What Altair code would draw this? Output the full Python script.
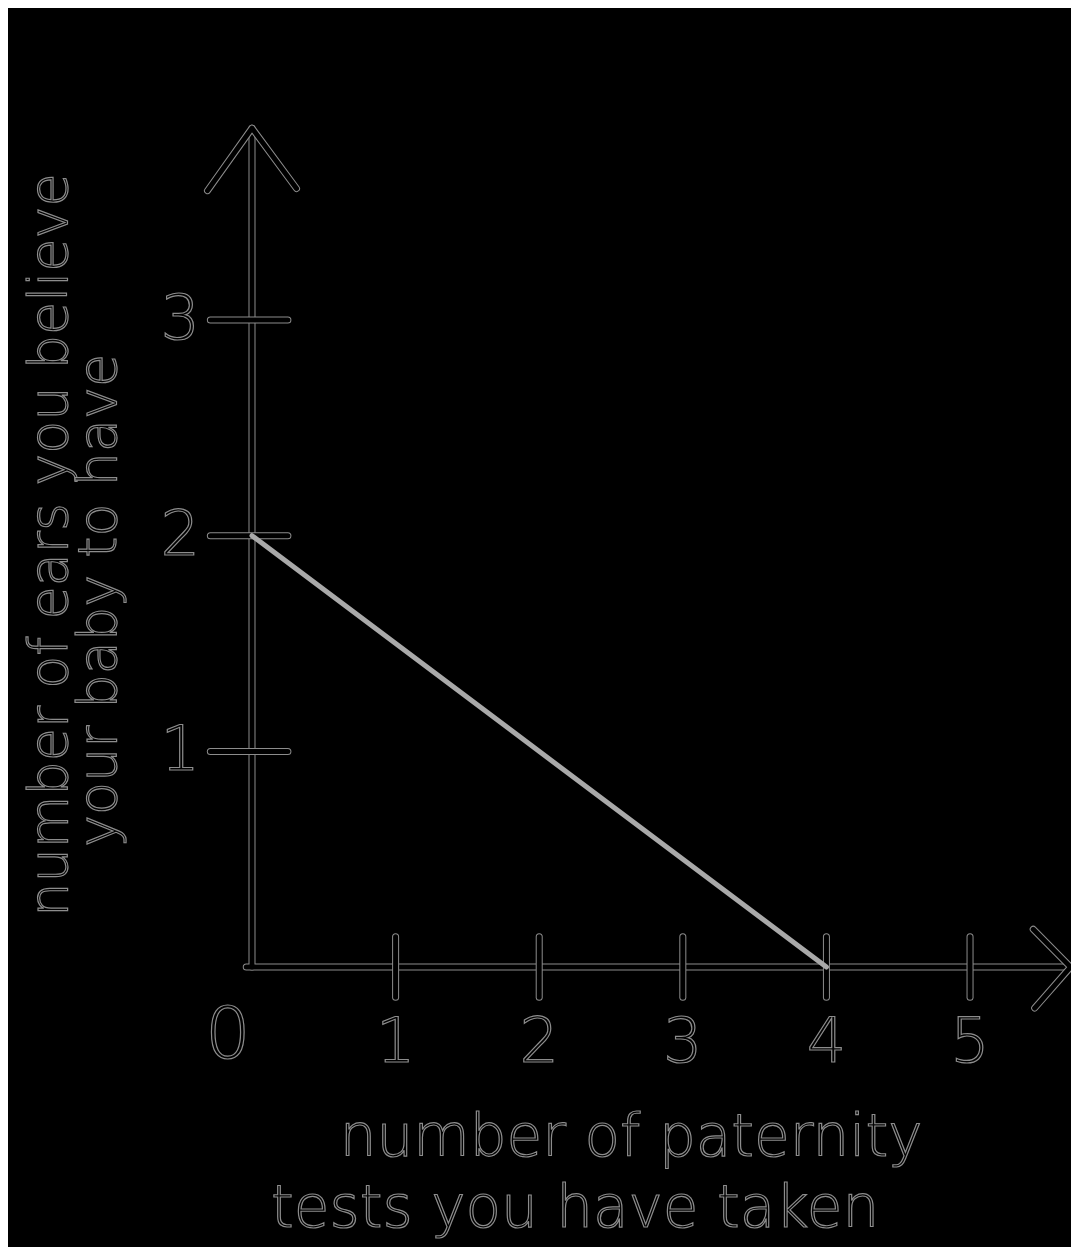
import altair as alt
import pandas as pd

# ---- data ----
x_ticks = [1, 2, 3, 4, 5]
x_tick_labels = ["1", "2", "3", "4", "5"]
y_ticks = [1, 2, 3]
y_tick_labels = ["1", "2", "3"]
origin_label = "0"
tests_taken = [0, 4]
ears_believed = [2, 0]
x_title_lines = ["number of paternity", "tests you have taken"]
y_title_lines = ["number of ears you believe", "your baby to have"]

# ---- layout / style ----
X_DOM = [-1.699, 5.703]
Y_DOM = [-1.298, 4.447]
W, H = 1063, 1239
FONT = "DejaVu Sans"
OUT = "#8c8c8c"   # faint halo around the black strokes
INK = "#000000"

xs = alt.Scale(domain=X_DOM, nice=False, zero=False)
ys = alt.Scale(domain=Y_DOM, nice=False, zero=False)


def X(f="x"):
    return alt.X(f"{f}:Q", scale=xs, axis=None)


def Y(f="y"):
    return alt.Y(f"{f}:Q", scale=ys, axis=None)


def segs_layers(df, width=5):
    enc = dict(x=X("x"), y=Y("y"), x2=alt.X2("x2:Q"), y2=alt.Y2("y2:Q"))
    halo = alt.Chart(df).mark_rule(color=OUT, strokeWidth=width + 2, strokeCap="round").encode(**enc)
    core = alt.Chart(df).mark_rule(color=INK, strokeWidth=width, strokeCap="round").encode(**enc)
    return [halo, core]


def poly_layers(df, width=5):
    enc = dict(x=X("x"), y=Y("y"), detail="g:N", order="o:Q")
    halo = alt.Chart(df).mark_line(color=OUT, strokeWidth=width + 2, strokeCap="round",
                                   strokeJoin="round").encode(**enc)
    core = alt.Chart(df).mark_line(color=INK, strokeWidth=width, strokeCap="round",
                                   strokeJoin="round").encode(**enc)
    return [halo, core]


# axes lines
axes_df = pd.DataFrame([
    {"x": 0.0, "y": 0.0, "x2": 0.0, "y2": 3.89},
    {"x": -0.04, "y": 0.0, "x2": 5.70, "y2": 0.0},
])
# arrow heads
arrows_df = pd.DataFrame([
    {"g": "up", "o": 0, "x": -0.31, "y": 3.60},
    {"g": "up", "o": 1, "x": 0.0, "y": 3.89},
    {"g": "up", "o": 2, "x": 0.31, "y": 3.61},
    {"g": "right", "o": 0, "x": 5.44, "y": 0.175},
    {"g": "right", "o": 1, "x": 5.70, "y": 0.0},
    {"g": "right", "o": 2, "x": 5.45, "y": -0.19},
])
# tick marks
xt_df = pd.DataFrame({"x": x_ticks, "x2": x_ticks,
                      "y": [0.14] * len(x_ticks), "y2": [-0.14] * len(x_ticks)})
yt_df = pd.DataFrame({"y": y_ticks, "y2": y_ticks,
                      "x": [-0.29] * len(y_ticks), "x2": [0.25] * len(y_ticks)})

layers = []
layers += segs_layers(axes_df, 5)
layers += poly_layers(arrows_df, 5)
layers += segs_layers(xt_df, 5)
layers += segs_layers(yt_df, 5)

# the data line
line_df = pd.DataFrame({"x": tests_taken, "y": ears_believed})
layers.append(alt.Chart(line_df).mark_line(color="#a9a9a9", strokeWidth=5, strokeCap="round").encode(
    x=X("x"), y=Y("y")))

txt = dict(font=FONT, color=INK, stroke=OUT, strokeWidth=1.2, fontWeight=200, align="center")

# tick labels
xl_df = pd.DataFrame({"x": x_ticks, "label": x_tick_labels, "y": [-0.35] * len(x_ticks)})
layers.append(alt.Chart(xl_df).mark_text(fontSize=62, baseline="middle", **txt).encode(
    x=X("x"), y=Y("y"), text="label:N"))
yl_df = pd.DataFrame({"y": y_ticks, "label": y_tick_labels, "x": [-0.50] * len(y_ticks)})
layers.append(alt.Chart(yl_df).mark_text(fontSize=62, baseline="middle", **txt).encode(
    x=X("x"), y=Y("y"), text="label:N"))
o_df = pd.DataFrame({"label": [origin_label], "x": [-0.167], "y": [-0.32]})
layers.append(alt.Chart(o_df).mark_text(fontSize=72, baseline="middle", **txt).encode(
    x=X("x"), y=Y("y"), text="label:N"))

# axis titles (positions are text baselines)
xt_title = pd.DataFrame({"label": x_title_lines, "x": [2.64, 2.25], "y": [-0.875, -1.205]})
layers.append(alt.Chart(xt_title).mark_text(fontSize=58, baseline="alphabetic", **txt).encode(
    x=X("x"), y=Y("y"), text="label:N"))
yt_title = pd.DataFrame({"label": y_title_lines, "x": [-1.288, -0.945], "y": [1.957, 1.70]})
layers.append(alt.Chart(yt_title).mark_text(fontSize=54, angle=270, baseline="alphabetic", **txt).encode(
    x=X("x"), y=Y("y"), text="label:N"))

chart = alt.layer(*layers).properties(
    width=W, height=H, padding=0, autosize=alt.AutoSizeParams(type="none"),
    background="#000000",
).configure_view(stroke=None)

chart.save("out.html", embed_options={"renderer": "svg", "actions": False})
